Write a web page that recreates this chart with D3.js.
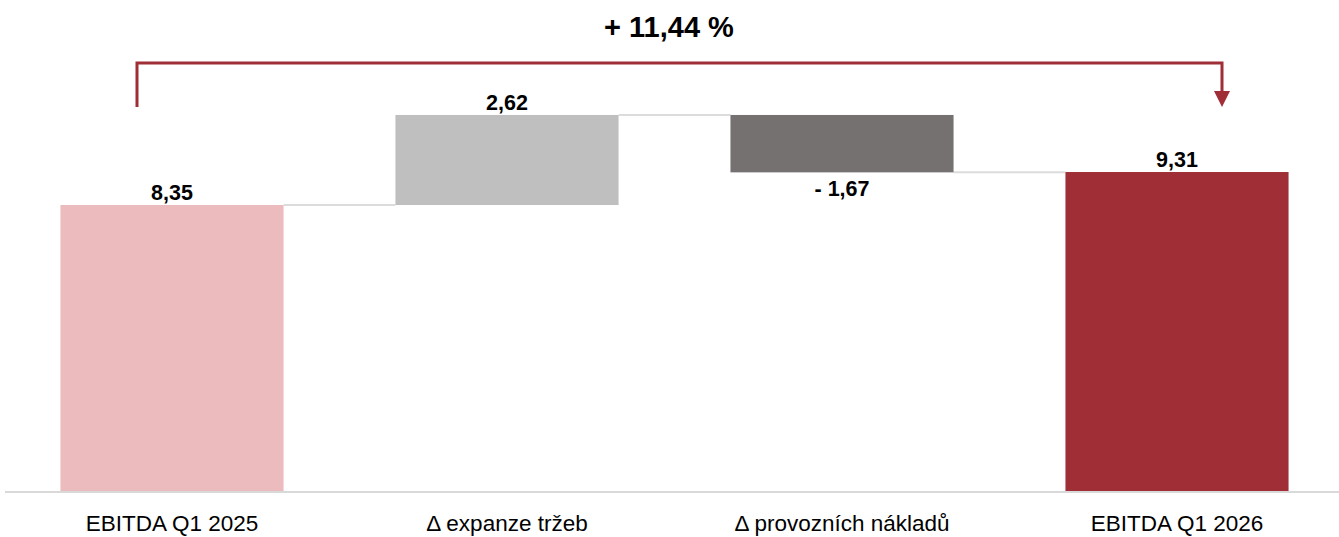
<!DOCTYPE html>
<html>
<head>
<meta charset="utf-8">
<script src="https://cdn.jsdelivr.net/npm/d3@7"></script>
<style>
  body { margin: 0; background: #fff; }
  svg { display: block; font-family: "Liberation Sans", Arial, sans-serif; }
</style>
</head>
<body>
<svg width="1339" height="537"></svg>
<script>
const categories = ["EBITDA Q1 2025", "\u0394 expanze tržeb", "\u0394 provozních nákladů", "EBITDA Q1 2026"];
const deltas = [8.35, 2.62, -1.67, 9.31];
const kinds = ["total", "delta", "delta", "total"];
const valueLabels = ["8,35", "2,62", "- 1,67", "9,31"];
const colors = ["#ecbbbe", "#bfbfbf", "#767171", "#a02e36"];
const changeLabel = "+ 11,44 %";

const svg = d3.select("svg");
const width = +svg.attr("width");
const baseY = 492;

// build waterfall steps
let running = 0;
const bars = categories.map((c, i) => {
    let start, end;
    if (kinds[i] === "total") { start = 0; end = deltas[i]; running = deltas[i]; }
    else { start = running; end = running + deltas[i]; running = end; }
    return {cat: c, start, end, value: deltas[i], label: valueLabels[i], color: colors[i]};
});

const x = d3.scaleBand()
    .domain(categories)
    .range([4.5, 1344.5])
    .paddingInner(0.334)
    .paddingOuter(0.167);

const y = d3.scaleLinear()
    .domain([0, 14.315])
    .range([baseY, 0]);

// connectors
for (let i = 0; i < bars.length - 1; i++) {
    const lvl = bars[i].end;
    svg.append("line")
        .attr("x1", x(bars[i].cat) + x.bandwidth())
        .attr("x2", x(bars[i+1].cat))
        .attr("y1", y(lvl)).attr("y2", y(lvl))
        .attr("stroke", "#dcdcdc")
        .attr("stroke-width", 2);
}

// bars
svg.selectAll("rect.bar")
    .data(bars)
    .join("rect")
    .attr("class", "bar")
    .attr("x", d => x(d.cat))
    .attr("width", x.bandwidth())
    .attr("y", d => y(Math.max(d.start, d.end)))
    .attr("height", d => Math.abs(y(d.start) - y(d.end)))
    .attr("fill", d => d.color);

// axis line
const axis = svg.append("g")
    .attr("transform", `translate(0,${baseY})`)
    .call(d3.axisBottom(x).tickSize(0).tickPadding(23));
axis.select(".domain").attr("stroke", "#d9d9d9").attr("stroke-width", 2)
    .attr("d", `M5,0H${width}`);
axis.attr("font-size", 22.5).attr("font-family", "Liberation Sans, Arial, sans-serif");
axis.selectAll("text")
    .attr("fill", "#000");

// value labels
svg.selectAll("text.val")
    .data(bars)
    .join("text")
    .attr("class", "val")
    .attr("x", d => x(d.cat) + x.bandwidth() / 2)
    .attr("y", d => d.value < 0 ? y(d.end) + 24 : y(Math.max(d.start, d.end)) - 5)
    .attr("text-anchor", "middle")
    .attr("font-size", 21.5)
    .attr("font-weight", "bold")
    .attr("fill", "#000")
    .text(d => d.label);

// bracket showing the change
const bx1 = x(categories[0]) + x.bandwidth() / 2 - 35;
const bx2 = x(categories[3]) + x.bandwidth() / 2 + 45;
const bTop = 63;
svg.append("path")
    .attr("d", `M${bx1},107V${bTop}H${bx2}V92`)
    .attr("fill", "none")
    .attr("stroke", "#a02e36")
    .attr("stroke-width", 3);
svg.append("path")
    .attr("d", `M${bx2 - 8},91L${bx2 + 8},91L${bx2},107Z`)
    .attr("fill", "#a02e36");

svg.append("text")
    .attr("x", 669)
    .attr("y", 37)
    .attr("text-anchor", "middle")
    .attr("font-size", 29)
    .attr("font-weight", "bold")
    .attr("fill", "#000")
    .text(changeLabel);
</script>
</body>
</html>
